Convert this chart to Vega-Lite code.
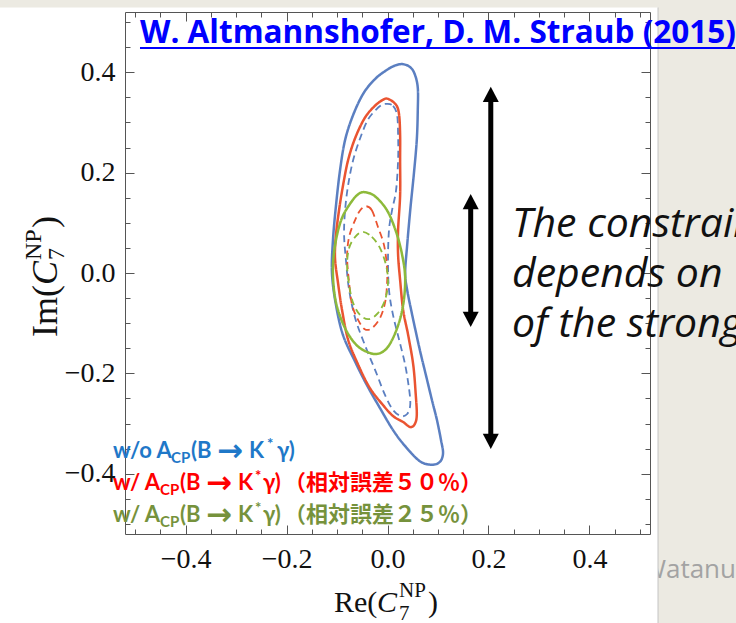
{
  "$schema": "https://vega.github.io/schema/vega-lite/v6.json",
  "width": 525,
  "height": 522,
  "autosize": {"type": "none"},
  "padding": {"left": 125, "top": 12, "right": 86, "bottom": 89},
  "background": "white",
  "config": {
    "view": {"stroke": "#555555", "strokeWidth": 1},
    "axis": {
      "grid": false,
      "domain": false,
      "title": null,
      "tickColor": "#555555",
      "tickWidth": 1,
      "labelFont": "Liberation Serif",
      "labelFontSize": 28,
      "labelColor": "#111111"
    }
  },
  "datasets": {
    "contours": [
      {"c": "b1", "set": "w/o", "style": "solid", "i": 0, "re": 0.017, "im": 0.414},
      {"c": "b1", "set": "w/o", "style": "solid", "i": 1, "re": 0.031, "im": 0.416},
      {"c": "b1", "set": "w/o", "style": "solid", "i": 2, "re": 0.045, "im": 0.41},
      {"c": "b1", "set": "w/o", "style": "solid", "i": 3, "re": 0.054, "im": 0.396},
      {"c": "b1", "set": "w/o", "style": "solid", "i": 4, "re": 0.06, "im": 0.369},
      {"c": "b1", "set": "w/o", "style": "solid", "i": 5, "re": 0.06, "im": 0.325},
      {"c": "b1", "set": "w/o", "style": "solid", "i": 6, "re": 0.058, "im": 0.265},
      {"c": "b1", "set": "w/o", "style": "solid", "i": 7, "re": 0.052, "im": 0.195},
      {"c": "b1", "set": "w/o", "style": "solid", "i": 8, "re": 0.045, "im": 0.125},
      {"c": "b1", "set": "w/o", "style": "solid", "i": 9, "re": 0.039, "im": 0.056},
      {"c": "b1", "set": "w/o", "style": "solid", "i": 10, "re": 0.035, "im": 0.0},
      {"c": "b1", "set": "w/o", "style": "solid", "i": 11, "re": 0.039, "im": -0.034},
      {"c": "b1", "set": "w/o", "style": "solid", "i": 12, "re": 0.049, "im": -0.084},
      {"c": "b1", "set": "w/o", "style": "solid", "i": 13, "re": 0.064, "im": -0.153},
      {"c": "b1", "set": "w/o", "style": "solid", "i": 14, "re": 0.076, "im": -0.203},
      {"c": "b1", "set": "w/o", "style": "solid", "i": 15, "re": 0.088, "im": -0.253},
      {"c": "b1", "set": "w/o", "style": "solid", "i": 16, "re": 0.098, "im": -0.293},
      {"c": "b1", "set": "w/o", "style": "solid", "i": 17, "re": 0.106, "im": -0.333},
      {"c": "b1", "set": "w/o", "style": "solid", "i": 18, "re": 0.11, "im": -0.359},
      {"c": "b1", "set": "w/o", "style": "solid", "i": 19, "re": 0.104, "im": -0.376},
      {"c": "b1", "set": "w/o", "style": "solid", "i": 20, "re": 0.088, "im": -0.382},
      {"c": "b1", "set": "w/o", "style": "solid", "i": 21, "re": 0.064, "im": -0.375},
      {"c": "b1", "set": "w/o", "style": "solid", "i": 22, "re": 0.035, "im": -0.345},
      {"c": "b1", "set": "w/o", "style": "solid", "i": 23, "re": 0.011, "im": -0.313},
      {"c": "b1", "set": "w/o", "style": "solid", "i": 24, "re": -0.015, "im": -0.269},
      {"c": "b1", "set": "w/o", "style": "solid", "i": 25, "re": -0.041, "im": -0.223},
      {"c": "b1", "set": "w/o", "style": "solid", "i": 26, "re": -0.064, "im": -0.177},
      {"c": "b1", "set": "w/o", "style": "solid", "i": 27, "re": -0.088, "im": -0.124},
      {"c": "b1", "set": "w/o", "style": "solid", "i": 28, "re": -0.102, "im": -0.064},
      {"c": "b1", "set": "w/o", "style": "solid", "i": 29, "re": -0.11, "im": 0.0},
      {"c": "b1", "set": "w/o", "style": "solid", "i": 30, "re": -0.108, "im": 0.066},
      {"c": "b1", "set": "w/o", "style": "solid", "i": 31, "re": -0.102, "im": 0.135},
      {"c": "b1", "set": "w/o", "style": "solid", "i": 32, "re": -0.094, "im": 0.205},
      {"c": "b1", "set": "w/o", "style": "solid", "i": 33, "re": -0.084, "im": 0.265},
      {"c": "b1", "set": "w/o", "style": "solid", "i": 34, "re": -0.068, "im": 0.315},
      {"c": "b1", "set": "w/o", "style": "solid", "i": 35, "re": -0.047, "im": 0.359},
      {"c": "b1", "set": "w/o", "style": "solid", "i": 36, "re": -0.023, "im": 0.388},
      {"c": "b1", "set": "w/o", "style": "solid", "i": 37, "re": 0.001, "im": 0.406},

      {"c": "b2", "set": "w/o", "style": "dashed", "i": 0, "re": -0.001, "im": 0.337},
      {"c": "b2", "set": "w/o", "style": "dashed", "i": 1, "re": 0.011, "im": 0.333},
      {"c": "b2", "set": "w/o", "style": "dashed", "i": 2, "re": 0.019, "im": 0.315},
      {"c": "b2", "set": "w/o", "style": "dashed", "i": 3, "re": 0.021, "im": 0.275},
      {"c": "b2", "set": "w/o", "style": "dashed", "i": 4, "re": 0.021, "im": 0.225},
      {"c": "b2", "set": "w/o", "style": "dashed", "i": 5, "re": 0.017, "im": 0.165},
      {"c": "b2", "set": "w/o", "style": "dashed", "i": 6, "re": 0.009, "im": 0.125},
      {"c": "b2", "set": "w/o", "style": "dashed", "i": 7, "re": 0.003, "im": 0.086},
      {"c": "b2", "set": "w/o", "style": "dashed", "i": 8, "re": 0.001, "im": 0.026},
      {"c": "b2", "set": "w/o", "style": "dashed", "i": 9, "re": 0.003, "im": -0.034},
      {"c": "b2", "set": "w/o", "style": "dashed", "i": 10, "re": 0.011, "im": -0.084},
      {"c": "b2", "set": "w/o", "style": "dashed", "i": 11, "re": 0.023, "im": -0.133},
      {"c": "b2", "set": "w/o", "style": "dashed", "i": 12, "re": 0.035, "im": -0.183},
      {"c": "b2", "set": "w/o", "style": "dashed", "i": 13, "re": 0.043, "im": -0.233},
      {"c": "b2", "set": "w/o", "style": "dashed", "i": 14, "re": 0.045, "im": -0.263},
      {"c": "b2", "set": "w/o", "style": "dashed", "i": 15, "re": 0.039, "im": -0.281},
      {"c": "b2", "set": "w/o", "style": "dashed", "i": 16, "re": 0.027, "im": -0.285},
      {"c": "b2", "set": "w/o", "style": "dashed", "i": 17, "re": 0.011, "im": -0.273},
      {"c": "b2", "set": "w/o", "style": "dashed", "i": 18, "re": -0.005, "im": -0.243},
      {"c": "b2", "set": "w/o", "style": "dashed", "i": 19, "re": -0.023, "im": -0.197},
      {"c": "b2", "set": "w/o", "style": "dashed", "i": 20, "re": -0.045, "im": -0.143},
      {"c": "b2", "set": "w/o", "style": "dashed", "i": 21, "re": -0.064, "im": -0.09},
      {"c": "b2", "set": "w/o", "style": "dashed", "i": 22, "re": -0.076, "im": -0.034},
      {"c": "b2", "set": "w/o", "style": "dashed", "i": 23, "re": -0.082, "im": 0.022},
      {"c": "b2", "set": "w/o", "style": "dashed", "i": 24, "re": -0.086, "im": 0.076},
      {"c": "b2", "set": "w/o", "style": "dashed", "i": 25, "re": -0.084, "im": 0.125},
      {"c": "b2", "set": "w/o", "style": "dashed", "i": 26, "re": -0.078, "im": 0.175},
      {"c": "b2", "set": "w/o", "style": "dashed", "i": 27, "re": -0.068, "im": 0.225},
      {"c": "b2", "set": "w/o", "style": "dashed", "i": 28, "re": -0.054, "im": 0.269},
      {"c": "b2", "set": "w/o", "style": "dashed", "i": 29, "re": -0.039, "im": 0.305},
      {"c": "b2", "set": "w/o", "style": "dashed", "i": 30, "re": -0.023, "im": 0.325},
      {"c": "b2", "set": "w/o", "style": "dashed", "i": 31, "re": -0.011, "im": 0.335},

      {"c": "r1", "set": "50%", "style": "solid", "i": 0, "re": 0.001, "im": 0.347},
      {"c": "r1", "set": "50%", "style": "solid", "i": 1, "re": 0.017, "im": 0.335},
      {"c": "r1", "set": "50%", "style": "solid", "i": 2, "re": 0.023, "im": 0.315},
      {"c": "r1", "set": "50%", "style": "solid", "i": 3, "re": 0.025, "im": 0.275},
      {"c": "r1", "set": "50%", "style": "solid", "i": 4, "re": 0.025, "im": 0.225},
      {"c": "r1", "set": "50%", "style": "solid", "i": 5, "re": 0.025, "im": 0.155},
      {"c": "r1", "set": "50%", "style": "solid", "i": 6, "re": 0.021, "im": 0.086},
      {"c": "r1", "set": "50%", "style": "solid", "i": 7, "re": 0.021, "im": 0.036},
      {"c": "r1", "set": "50%", "style": "solid", "i": 8, "re": 0.025, "im": -0.014},
      {"c": "r1", "set": "50%", "style": "solid", "i": 9, "re": 0.031, "im": -0.074},
      {"c": "r1", "set": "50%", "style": "solid", "i": 10, "re": 0.041, "im": -0.124},
      {"c": "r1", "set": "50%", "style": "solid", "i": 11, "re": 0.051, "im": -0.183},
      {"c": "r1", "set": "50%", "style": "solid", "i": 12, "re": 0.056, "im": -0.243},
      {"c": "r1", "set": "50%", "style": "solid", "i": 13, "re": 0.058, "im": -0.283},
      {"c": "r1", "set": "50%", "style": "solid", "i": 14, "re": 0.054, "im": -0.301},
      {"c": "r1", "set": "50%", "style": "solid", "i": 15, "re": 0.045, "im": -0.307},
      {"c": "r1", "set": "50%", "style": "solid", "i": 16, "re": 0.031, "im": -0.297},
      {"c": "r1", "set": "50%", "style": "solid", "i": 17, "re": 0.011, "im": -0.285},
      {"c": "r1", "set": "50%", "style": "solid", "i": 18, "re": -0.009, "im": -0.263},
      {"c": "r1", "set": "50%", "style": "solid", "i": 19, "re": -0.035, "im": -0.229},
      {"c": "r1", "set": "50%", "style": "solid", "i": 20, "re": -0.058, "im": -0.183},
      {"c": "r1", "set": "50%", "style": "solid", "i": 21, "re": -0.078, "im": -0.133},
      {"c": "r1", "set": "50%", "style": "solid", "i": 22, "re": -0.09, "im": -0.074},
      {"c": "r1", "set": "50%", "style": "solid", "i": 23, "re": -0.098, "im": -0.02},
      {"c": "r1", "set": "50%", "style": "solid", "i": 24, "re": -0.104, "im": 0.03},
      {"c": "r1", "set": "50%", "style": "solid", "i": 25, "re": -0.102, "im": 0.076},
      {"c": "r1", "set": "50%", "style": "solid", "i": 26, "re": -0.096, "im": 0.125},
      {"c": "r1", "set": "50%", "style": "solid", "i": 27, "re": -0.088, "im": 0.175},
      {"c": "r1", "set": "50%", "style": "solid", "i": 28, "re": -0.078, "im": 0.225},
      {"c": "r1", "set": "50%", "style": "solid", "i": 29, "re": -0.064, "im": 0.269},
      {"c": "r1", "set": "50%", "style": "solid", "i": 30, "re": -0.045, "im": 0.309},
      {"c": "r1", "set": "50%", "style": "solid", "i": 31, "re": -0.025, "im": 0.333},
      {"c": "r1", "set": "50%", "style": "solid", "i": 32, "re": -0.009, "im": 0.345},

      {"c": "r2", "set": "50%", "style": "dashed", "i": 0, "re": -0.043, "im": 0.133},
      {"c": "r2", "set": "50%", "style": "dashed", "i": 1, "re": -0.031, "im": 0.125},
      {"c": "r2", "set": "50%", "style": "dashed", "i": 2, "re": -0.019, "im": 0.092},
      {"c": "r2", "set": "50%", "style": "dashed", "i": 3, "re": -0.007, "im": 0.056},
      {"c": "r2", "set": "50%", "style": "dashed", "i": 4, "re": -0.001, "im": 0.012},
      {"c": "r2", "set": "50%", "style": "dashed", "i": 5, "re": -0.001, "im": -0.024},
      {"c": "r2", "set": "50%", "style": "dashed", "i": 6, "re": -0.005, "im": -0.06},
      {"c": "r2", "set": "50%", "style": "dashed", "i": 7, "re": -0.015, "im": -0.09},
      {"c": "r2", "set": "50%", "style": "dashed", "i": 8, "re": -0.031, "im": -0.11},
      {"c": "r2", "set": "50%", "style": "dashed", "i": 9, "re": -0.045, "im": -0.112},
      {"c": "r2", "set": "50%", "style": "dashed", "i": 10, "re": -0.058, "im": -0.094},
      {"c": "r2", "set": "50%", "style": "dashed", "i": 11, "re": -0.07, "im": -0.064},
      {"c": "r2", "set": "50%", "style": "dashed", "i": 12, "re": -0.076, "im": -0.02},
      {"c": "r2", "set": "50%", "style": "dashed", "i": 13, "re": -0.08, "im": 0.032},
      {"c": "r2", "set": "50%", "style": "dashed", "i": 14, "re": -0.076, "im": 0.072},
      {"c": "r2", "set": "50%", "style": "dashed", "i": 15, "re": -0.064, "im": 0.106},
      {"c": "r2", "set": "50%", "style": "dashed", "i": 16, "re": -0.054, "im": 0.125},

      {"c": "g1", "set": "25%", "style": "solid", "i": 0, "re": -0.045, "im": 0.161},
      {"c": "g1", "set": "25%", "style": "solid", "i": 1, "re": -0.025, "im": 0.153},
      {"c": "g1", "set": "25%", "style": "solid", "i": 2, "re": -0.001, "im": 0.125},
      {"c": "g1", "set": "25%", "style": "solid", "i": 3, "re": 0.017, "im": 0.082},
      {"c": "g1", "set": "25%", "style": "solid", "i": 4, "re": 0.029, "im": 0.036},
      {"c": "g1", "set": "25%", "style": "solid", "i": 5, "re": 0.035, "im": -0.01},
      {"c": "g1", "set": "25%", "style": "solid", "i": 6, "re": 0.031, "im": -0.064},
      {"c": "g1", "set": "25%", "style": "solid", "i": 7, "re": 0.019, "im": -0.11},
      {"c": "g1", "set": "25%", "style": "solid", "i": 8, "re": 0.001, "im": -0.147},
      {"c": "g1", "set": "25%", "style": "solid", "i": 9, "re": -0.019, "im": -0.161},
      {"c": "g1", "set": "25%", "style": "solid", "i": 10, "re": -0.041, "im": -0.157},
      {"c": "g1", "set": "25%", "style": "solid", "i": 11, "re": -0.062, "im": -0.143},
      {"c": "g1", "set": "25%", "style": "solid", "i": 12, "re": -0.082, "im": -0.114},
      {"c": "g1", "set": "25%", "style": "solid", "i": 13, "re": -0.098, "im": -0.074},
      {"c": "g1", "set": "25%", "style": "solid", "i": 14, "re": -0.106, "im": -0.034},
      {"c": "g1", "set": "25%", "style": "solid", "i": 15, "re": -0.108, "im": 0.016},
      {"c": "g1", "set": "25%", "style": "solid", "i": 16, "re": -0.102, "im": 0.066},
      {"c": "g1", "set": "25%", "style": "solid", "i": 17, "re": -0.09, "im": 0.11},
      {"c": "g1", "set": "25%", "style": "solid", "i": 18, "re": -0.072, "im": 0.141},
      {"c": "g1", "set": "25%", "style": "solid", "i": 19, "re": -0.058, "im": 0.157},

      {"c": "g2", "set": "25%", "style": "dashed", "i": 0, "re": -0.049, "im": 0.082},
      {"c": "g2", "set": "25%", "style": "dashed", "i": 1, "re": -0.031, "im": 0.072},
      {"c": "g2", "set": "25%", "style": "dashed", "i": 2, "re": -0.015, "im": 0.05},
      {"c": "g2", "set": "25%", "style": "dashed", "i": 3, "re": -0.003, "im": 0.016},
      {"c": "g2", "set": "25%", "style": "dashed", "i": 4, "re": 0.001, "im": -0.018},
      {"c": "g2", "set": "25%", "style": "dashed", "i": 5, "re": -0.005, "im": -0.054},
      {"c": "g2", "set": "25%", "style": "dashed", "i": 6, "re": -0.019, "im": -0.08},
      {"c": "g2", "set": "25%", "style": "dashed", "i": 7, "re": -0.037, "im": -0.092},
      {"c": "g2", "set": "25%", "style": "dashed", "i": 8, "re": -0.054, "im": -0.084},
      {"c": "g2", "set": "25%", "style": "dashed", "i": 9, "re": -0.068, "im": -0.06},
      {"c": "g2", "set": "25%", "style": "dashed", "i": 10, "re": -0.076, "im": -0.024},
      {"c": "g2", "set": "25%", "style": "dashed", "i": 11, "re": -0.08, "im": 0.016},
      {"c": "g2", "set": "25%", "style": "dashed", "i": 12, "re": -0.076, "im": 0.05},
      {"c": "g2", "set": "25%", "style": "dashed", "i": 13, "re": -0.064, "im": 0.072}
    ],
    "slide": [
      {"part": "top strip", "x0": -0.8, "x1": 0.75, "y0": 0.529, "y1": 0.6},
      {"part": "right strip", "x0": 0.5359, "x1": 0.75, "y0": -0.8, "y1": 0.6}
    ],
    "cover": [
      {"x0": 0.4507, "x1": 0.5359, "y0": -0.532, "y1": -0.66}
    ],
    "arrows": [
      {"arrow": "wide", "x": 0.2046, "top": 0.3711, "bottom": -0.3506},
      {"arrow": "narrow", "x": 0.1648, "top": 0.1574, "bottom": -0.1076}
    ],
    "note": [
      {"t": "The constraint", "x": 0.2466, "y": 0.0717},
      {"t": "depends on", "x": 0.2466, "y": -0.0279},
      {"t": "of the strong phase", "x": 0.2466, "y": -0.1275}
    ],
    "legend": [
      {"line": "w/o", "part": "main", "t": "w/o A", "x": -0.5438, "y": -0.3685},
      {"line": "w/o", "part": "sub", "t": "CP", "x": -0.4289, "y": -0.3785},
      {"line": "w/o", "part": "main", "t": "(B", "x": -0.3893, "y": -0.3685},
      {"line": "w/o", "part": "arrow", "t": "→", "x": -0.3378, "y": -0.3685},
      {"line": "w/o", "part": "main", "t": "K", "x": -0.2744, "y": -0.3685},
      {"line": "w/o", "part": "sup", "t": "*", "x": -0.2387, "y": -0.3506},
      {"line": "w/o", "part": "main", "t": "γ)", "x": -0.2189, "y": -0.3685},
      {"line": "50%", "part": "main", "t": "w/ A", "x": -0.5438, "y": -0.4323},
      {"line": "50%", "part": "sub", "t": "CP", "x": -0.4507, "y": -0.4422},
      {"line": "50%", "part": "main", "t": "(B", "x": -0.4111, "y": -0.4323},
      {"line": "50%", "part": "arrow", "t": "→", "x": -0.3596, "y": -0.4323},
      {"line": "50%", "part": "main", "t": "K", "x": -0.2962, "y": -0.4323},
      {"line": "50%", "part": "sup", "t": "*", "x": -0.2625, "y": -0.4143},
      {"line": "50%", "part": "main", "t": "γ)", "x": -0.2467, "y": -0.4323},
      {"line": "50%", "part": "cjk", "t": "（相対誤差５０％）", "x": -0.2051, "y": -0.4323},
      {"line": "25%", "part": "main", "t": "w/ A", "x": -0.5438, "y": -0.496},
      {"line": "25%", "part": "sub", "t": "CP", "x": -0.4507, "y": -0.506},
      {"line": "25%", "part": "main", "t": "(B", "x": -0.4111, "y": -0.496},
      {"line": "25%", "part": "arrow", "t": "→", "x": -0.3596, "y": -0.496},
      {"line": "25%", "part": "main", "t": "K", "x": -0.2962, "y": -0.496},
      {"line": "25%", "part": "sup", "t": "*", "x": -0.2625, "y": -0.4781},
      {"line": "25%", "part": "main", "t": "γ)", "x": -0.2467, "y": -0.496},
      {"line": "25%", "part": "cjk", "t": "（相対誤差２５％）", "x": -0.2051, "y": -0.496}
    ],
    "xtitle": [
      {"part": "main", "t": "Re(", "x": -0.106, "y": -0.6753},
      {"part": "ital", "t": "C", "x": -0.0208, "y": -0.6753},
      {"part": "script", "t": "NP", "x": 0.0228, "y": -0.6454},
      {"part": "script", "t": "7", "x": 0.0228, "y": -0.6912},
      {"part": "main", "t": ")", "x": 0.0802, "y": -0.6753}
    ],
    "ytitle": [
      {"part": "main", "t": "Im(", "x": -0.6547, "y": -0.1275},
      {"part": "ital", "t": "C", "x": -0.6547, "y": -0.0239},
      {"part": "script", "t": "NP", "x": -0.6864, "y": 0.0259},
      {"part": "script", "t": "7", "x": -0.6409, "y": 0.0259},
      {"part": "main", "t": ")", "x": -0.6547, "y": 0.0896}
    ],
    "citation": [
      {"t": "W. Altmannshofer, D. M. Straub (2015)", "x": -0.4903, "x2": 0.6884, "y": 0.4582, "u": 0.4482}
    ],
    "footer": [
      {"t": "Watanu", "x": 0.504, "y": -0.6076}
    ]
  },
  "layer": [
    {
      "data": {"name": "slide"},
      "mark": {"type": "rect", "color": "#ECEAE2"},
      "encoding": {
        "x": {"field": "x0", "type": "quantitative", "scale": {"domain": [-0.52, 0.52], "nice": false, "zero": false}, "axis": null},
        "x2": {"field": "x1"},
        "y": {"field": "y0", "type": "quantitative", "scale": {"domain": [-0.52, 0.52], "nice": false, "zero": false}, "axis": null},
        "y2": {"field": "y1"}
      }
    },
    {
      "data": {"name": "footer"},
      "mark": {"type": "text", "font": "Open Sans", "fontSize": 26, "color": "#A3A3A3", "align": "left", "baseline": "alphabetic"},
      "encoding": {
        "x": {"field": "x", "type": "quantitative", "scale": {"domain": [-0.52, 0.52], "nice": false, "zero": false}, "axis": null},
        "y": {"field": "y", "type": "quantitative", "scale": {"domain": [-0.52, 0.52], "nice": false, "zero": false}, "axis": null},
        "text": {"field": "t"}
      }
    },
    {
      "data": {"name": "cover"},
      "mark": {"type": "rect", "color": "white"},
      "encoding": {
        "x": {"field": "x0", "type": "quantitative", "scale": {"domain": [-0.52, 0.52], "nice": false, "zero": false}, "axis": null},
        "x2": {"field": "x1"},
        "y": {"field": "y0", "type": "quantitative", "scale": {"domain": [-0.52, 0.52], "nice": false, "zero": false}, "axis": null},
        "y2": {"field": "y1"}
      }
    },
    {
      "data": {"name": "slide"},
      "transform": [{"filter": "datum.part === 'right strip'"}],
      "mark": {"type": "rule", "color": "#C4C4C4", "strokeWidth": 1},
      "encoding": {
        "x": {"field": "x0", "type": "quantitative", "scale": {"domain": [-0.52, 0.52], "nice": false, "zero": false}, "axis": null},
        "y": {"datum": 0.529, "type": "quantitative", "scale": {"domain": [-0.52, 0.52], "nice": false, "zero": false}, "axis": null},
        "y2": {"datum": -0.8}
      }
    },
    {
      "mark": {"type": "rule", "color": "#777777", "strokeWidth": 1.6, "strokeDash": [1.6, 6.4]},
      "encoding": {
        "x": {"datum": 0, "type": "quantitative", "scale": {"domain": [-0.52, 0.52], "nice": false, "zero": false}, "axis": null}
      }
    },
    {
      "mark": {"type": "rule", "color": "#777777", "strokeWidth": 1.6, "strokeDash": [1.6, 6.4]},
      "encoding": {
        "y": {"datum": 0, "type": "quantitative", "scale": {"domain": [-0.52, 0.52], "nice": false, "zero": false}, "axis": null}
      }
    },
    {
      "data": {"name": "contours"},
      "mark": {"type": "line", "interpolate": "cardinal-closed"},
      "encoding": {
        "x": {"field": "re", "type": "quantitative", "scale": {"domain": [-0.52, 0.52], "nice": false, "zero": false},
              "axis": {"orient": "bottom", "values": [-0.4, -0.2, 0, 0.2, 0.4], "format": ".1f", "tickSize": -9, "labelPadding": 20}},
        "y": {"field": "im", "type": "quantitative", "scale": {"domain": [-0.52, 0.52], "nice": false, "zero": false},
              "axis": {"orient": "left", "values": [-0.4, -0.2, 0, 0.2, 0.4], "format": ".1f", "tickSize": -9, "labelPadding": 19}},
        "detail": {"field": "c"},
        "order": {"field": "i", "type": "quantitative"},
        "color": {"field": "set", "type": "nominal", "scale": {"domain": ["w/o", "50%", "25%"], "range": ["#5B7FC1", "#EA5431", "#8DBA3A"]}, "legend": null},
        "strokeDash": {"field": "style", "type": "nominal", "scale": {"domain": ["solid", "dashed"], "range": [[1, 0], [7, 4.5]]}, "legend": null},
        "strokeWidth": {"field": "style", "type": "nominal", "scale": {"type": "ordinal", "domain": ["solid", "dashed"], "range": [2.5, 1.8]}, "legend": null}
      }
    },
    {
      "data": {"name": "arrows"},
      "mark": {"type": "rule", "color": "black", "strokeWidth": 5, "yOffset": 12, "y2Offset": -12},
      "encoding": {
        "x": {"field": "x", "type": "quantitative", "scale": {"domain": [-0.52, 0.52], "nice": false, "zero": false},
              "axis": {"orient": "top", "values": [-0.4, -0.2, 0, 0.2, 0.4], "tickSize": -9, "labels": false}},
        "y": {"field": "top", "type": "quantitative", "scale": {"domain": [-0.52, 0.52], "nice": false, "zero": false},
              "axis": {"orient": "right", "values": [-0.4, -0.2, 0, 0.2, 0.4], "tickSize": -9, "labels": false}},
        "y2": {"field": "bottom"}
      }
    },
    {
      "data": {"name": "arrows"},
      "mark": {"type": "point", "filled": true, "color": "black", "opacity": 1, "size": 1024, "shape": "M0,0L0.5,0.95L-0.5,0.95Z"},
      "encoding": {
        "x": {"field": "x", "type": "quantitative", "scale": {"domain": [-0.52, 0.52], "nice": false, "zero": false},
              "axis": {"orient": "bottom", "values": [-0.5, -0.45, -0.35, -0.3, -0.25, -0.15, -0.1, -0.05, 0.05, 0.1, 0.15, 0.25, 0.3, 0.35, 0.45, 0.5], "tickSize": -5, "labels": false}},
        "y": {"field": "top", "type": "quantitative", "scale": {"domain": [-0.52, 0.52], "nice": false, "zero": false},
              "axis": {"orient": "left", "values": [-0.5, -0.45, -0.35, -0.3, -0.25, -0.15, -0.1, -0.05, 0.05, 0.1, 0.15, 0.25, 0.3, 0.35, 0.45, 0.5], "tickSize": -5, "labels": false}}
      }
    },
    {
      "data": {"name": "arrows"},
      "mark": {"type": "point", "filled": true, "color": "black", "opacity": 1, "size": 1024, "shape": "M0,0L0.5,-0.95L-0.5,-0.95Z"},
      "encoding": {
        "x": {"field": "x", "type": "quantitative", "scale": {"domain": [-0.52, 0.52], "nice": false, "zero": false},
              "axis": {"orient": "top", "values": [-0.5, -0.45, -0.35, -0.3, -0.25, -0.15, -0.1, -0.05, 0.05, 0.1, 0.15, 0.25, 0.3, 0.35, 0.45, 0.5], "tickSize": -5, "labels": false}},
        "y": {"field": "bottom", "type": "quantitative", "scale": {"domain": [-0.52, 0.52], "nice": false, "zero": false},
              "axis": {"orient": "right", "values": [-0.5, -0.45, -0.35, -0.3, -0.25, -0.15, -0.1, -0.05, 0.05, 0.1, 0.15, 0.25, 0.3, 0.35, 0.45, 0.5], "tickSize": -5, "labels": false}}
      }
    },
    {
      "data": {"name": "note"},
      "mark": {"type": "text", "font": "Open Sans", "fontStyle": "italic", "fontSize": 41, "color": "#111111", "align": "left", "baseline": "alphabetic"},
      "encoding": {
        "x": {"field": "x", "type": "quantitative", "scale": {"domain": [-0.52, 0.52], "nice": false, "zero": false}, "axis": null},
        "y": {"field": "y", "type": "quantitative", "scale": {"domain": [-0.52, 0.52], "nice": false, "zero": false}, "axis": null},
        "text": {"field": "t"}
      }
    },
    {
      "data": {"name": "legend"},
      "transform": [{"filter": "datum.part === 'main'"}],
      "mark": {"type": "text", "font": "Lato, Noto Sans", "fontWeight": "bold", "fontSize": 22, "align": "left", "baseline": "alphabetic"},
      "encoding": {
        "x": {"field": "x", "type": "quantitative", "scale": {"domain": [-0.52, 0.52], "nice": false, "zero": false}, "axis": null},
        "y": {"field": "y", "type": "quantitative", "scale": {"domain": [-0.52, 0.52], "nice": false, "zero": false}, "axis": null},
        "text": {"field": "t"},
        "color": {"field": "line", "type": "nominal", "scale": {"domain": ["w/o", "50%", "25%"], "range": ["#1F78C8", "#FF0000", "#76923C"]}, "legend": null}
      }
    },
    {
      "data": {"name": "legend"},
      "transform": [{"filter": "datum.part === 'sub' || datum.part === 'sup'"}],
      "mark": {"type": "text", "font": "Lato, Noto Sans", "fontWeight": "bold", "fontSize": 15, "align": "left", "baseline": "alphabetic"},
      "encoding": {
        "x": {"field": "x", "type": "quantitative", "scale": {"domain": [-0.52, 0.52], "nice": false, "zero": false}, "axis": null},
        "y": {"field": "y", "type": "quantitative", "scale": {"domain": [-0.52, 0.52], "nice": false, "zero": false}, "axis": null},
        "text": {"field": "t"},
        "color": {"field": "line", "type": "nominal", "scale": {"domain": ["w/o", "50%", "25%"], "range": ["#1F78C8", "#FF0000", "#76923C"]}, "legend": null}
      }
    },
    {
      "data": {"name": "legend"},
      "transform": [{"filter": "datum.part === 'arrow'"}],
      "mark": {"type": "text", "font": "DejaVu Sans", "fontWeight": "bold", "fontSize": 31, "align": "left", "baseline": "alphabetic", "dy": 3},
      "encoding": {
        "x": {"field": "x", "type": "quantitative", "scale": {"domain": [-0.52, 0.52], "nice": false, "zero": false}, "axis": null},
        "y": {"field": "y", "type": "quantitative", "scale": {"domain": [-0.52, 0.52], "nice": false, "zero": false}, "axis": null},
        "text": {"field": "t"},
        "color": {"field": "line", "type": "nominal", "scale": {"domain": ["w/o", "50%", "25%"], "range": ["#1F78C8", "#FF0000", "#76923C"]}, "legend": null}
      }
    },
    {
      "data": {"name": "legend"},
      "transform": [{"filter": "datum.part === 'cjk'"}],
      "mark": {"type": "text", "font": "Noto Sans CJK JP", "fontWeight": "bold", "fontSize": 22, "align": "left", "baseline": "alphabetic"},
      "encoding": {
        "x": {"field": "x", "type": "quantitative", "scale": {"domain": [-0.52, 0.52], "nice": false, "zero": false}, "axis": null},
        "y": {"field": "y", "type": "quantitative", "scale": {"domain": [-0.52, 0.52], "nice": false, "zero": false}, "axis": null},
        "text": {"field": "t"},
        "color": {"field": "line", "type": "nominal", "scale": {"domain": ["w/o", "50%", "25%"], "range": ["#1F78C8", "#FF0000", "#76923C"]}, "legend": null}
      }
    },
    {
      "data": {"name": "xtitle"},
      "transform": [{"filter": "datum.part === 'main'"}],
      "mark": {"type": "text", "font": "Liberation Serif", "fontSize": 30, "color": "#111111", "align": "left", "baseline": "alphabetic"},
      "encoding": {
        "x": {"field": "x", "type": "quantitative", "scale": {"domain": [-0.52, 0.52], "nice": false, "zero": false}, "axis": null},
        "y": {"field": "y", "type": "quantitative", "scale": {"domain": [-0.52, 0.52], "nice": false, "zero": false}, "axis": null},
        "text": {"field": "t"}
      }
    },
    {
      "data": {"name": "xtitle"},
      "transform": [{"filter": "datum.part === 'ital'"}],
      "mark": {"type": "text", "font": "Liberation Serif", "fontStyle": "italic", "fontSize": 30, "color": "#111111", "align": "left", "baseline": "alphabetic"},
      "encoding": {
        "x": {"field": "x", "type": "quantitative", "scale": {"domain": [-0.52, 0.52], "nice": false, "zero": false}, "axis": null},
        "y": {"field": "y", "type": "quantitative", "scale": {"domain": [-0.52, 0.52], "nice": false, "zero": false}, "axis": null},
        "text": {"field": "t"}
      }
    },
    {
      "data": {"name": "xtitle"},
      "transform": [{"filter": "datum.part === 'script'"}],
      "mark": {"type": "text", "font": "Liberation Serif", "fontSize": 21, "color": "#111111", "align": "left", "baseline": "alphabetic"},
      "encoding": {
        "x": {"field": "x", "type": "quantitative", "scale": {"domain": [-0.52, 0.52], "nice": false, "zero": false}, "axis": null},
        "y": {"field": "y", "type": "quantitative", "scale": {"domain": [-0.52, 0.52], "nice": false, "zero": false}, "axis": null},
        "text": {"field": "t"}
      }
    },
    {
      "data": {"name": "ytitle"},
      "transform": [{"filter": "datum.part === 'main'"}],
      "mark": {"type": "text", "font": "Liberation Serif", "fontSize": 36, "color": "#111111", "align": "left", "baseline": "alphabetic", "angle": 270},
      "encoding": {
        "x": {"field": "x", "type": "quantitative", "scale": {"domain": [-0.52, 0.52], "nice": false, "zero": false}, "axis": null},
        "y": {"field": "y", "type": "quantitative", "scale": {"domain": [-0.52, 0.52], "nice": false, "zero": false}, "axis": null},
        "text": {"field": "t"}
      }
    },
    {
      "data": {"name": "ytitle"},
      "transform": [{"filter": "datum.part === 'ital'"}],
      "mark": {"type": "text", "font": "Liberation Serif", "fontStyle": "italic", "fontSize": 36, "color": "#111111", "align": "left", "baseline": "alphabetic", "angle": 270},
      "encoding": {
        "x": {"field": "x", "type": "quantitative", "scale": {"domain": [-0.52, 0.52], "nice": false, "zero": false}, "axis": null},
        "y": {"field": "y", "type": "quantitative", "scale": {"domain": [-0.52, 0.52], "nice": false, "zero": false}, "axis": null},
        "text": {"field": "t"}
      }
    },
    {
      "data": {"name": "ytitle"},
      "transform": [{"filter": "datum.part === 'script'"}],
      "mark": {"type": "text", "font": "Liberation Serif", "fontSize": 24, "color": "#111111", "align": "left", "baseline": "alphabetic", "angle": 270},
      "encoding": {
        "x": {"field": "x", "type": "quantitative", "scale": {"domain": [-0.52, 0.52], "nice": false, "zero": false}, "axis": null},
        "y": {"field": "y", "type": "quantitative", "scale": {"domain": [-0.52, 0.52], "nice": false, "zero": false}, "axis": null},
        "text": {"field": "t"}
      }
    },
    {
      "data": {"name": "citation"},
      "mark": {"type": "rule", "color": "#0000FF", "strokeWidth": 2},
      "encoding": {
        "x": {"field": "x", "type": "quantitative", "scale": {"domain": [-0.52, 0.52], "nice": false, "zero": false}, "axis": null},
        "x2": {"field": "x2"},
        "y": {"field": "u", "type": "quantitative", "scale": {"domain": [-0.52, 0.52], "nice": false, "zero": false}, "axis": null}
      }
    },
    {
      "data": {"name": "citation"},
      "mark": {"type": "text", "font": "Open Sans", "fontWeight": "bold", "fontSize": 31.5, "color": "#0000FF", "align": "left", "baseline": "alphabetic"},
      "encoding": {
        "x": {"field": "x", "type": "quantitative", "scale": {"domain": [-0.52, 0.52], "nice": false, "zero": false}, "axis": null},
        "y": {"field": "y", "type": "quantitative", "scale": {"domain": [-0.52, 0.52], "nice": false, "zero": false}, "axis": null},
        "text": {"field": "t"}
      }
    }
  ],
  "resolve": {
    "scale": {"color": "independent", "strokeWidth": "independent"},
    "axis": {"x": "independent", "y": "independent"}
  }
}
